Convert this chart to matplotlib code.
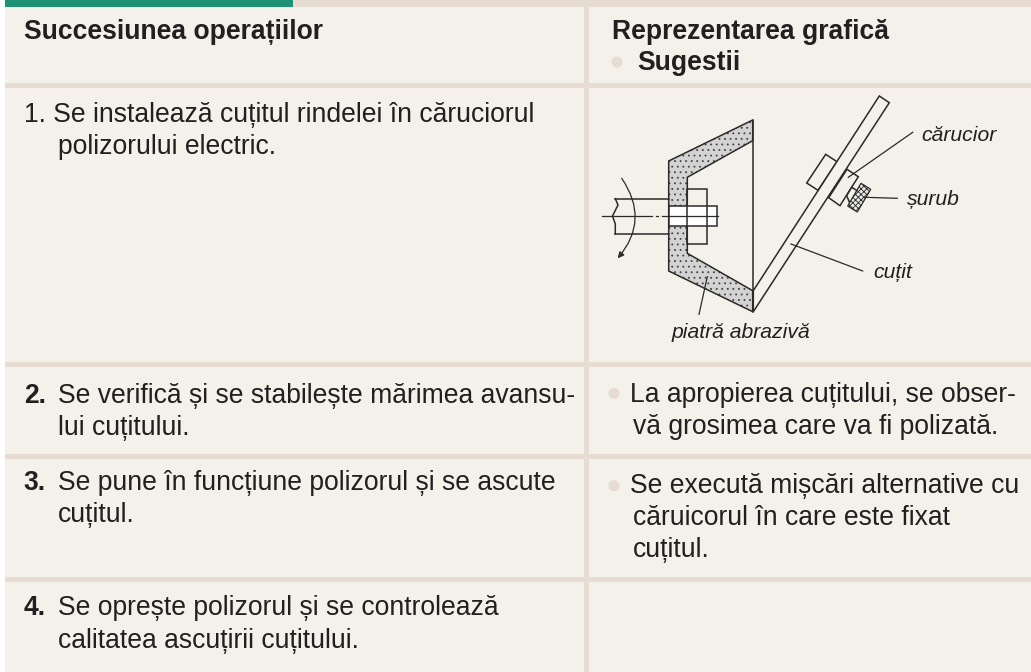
import matplotlib
matplotlib.use('Agg')
import matplotlib.pyplot as plt
from matplotlib.patches import Polygon, Rectangle, Circle, FancyArrowPatch

plt.rcParams['font.family'] = ['Liberation Sans', 'DejaVu Sans']
plt.rcParams['hatch.linewidth'] = 0.6

# texte din tabel
antet_st = 'Succesiunea operațiilor'
antet_dr = 'Reprezentarea grafică'
antet_sug = 'Sugestii'
pasi_nr = ['2.', '3.', '4.']
pas1 = ['1. Se instalează cuțitul rindelei în căruciorul', 'polizorului electric.']
pas2 = ['Se verifică și se stabilește mărimea avansu-', 'lui cuțitului.']
pas3 = ['Se pune în funcțiune polizorul și se ascute', 'cuțitul.']
pas4 = ['Se oprește polizorul și se controlează', 'calitatea ascuțirii cuțitului.']
sug2 = ['La apropierea cuțitului, se obser-', 'vă grosimea care va fi polizată.']
sug3 = ['Se execută mișcări alternative cu', 'căruicorul în care este fixat', 'cuțitul.']

FUNDAL = '#f4f0ea'
LINIE = '#e6dcd1'
VERDE = '#1f9275'
TEXT = '#231f20'
FS = 19.1

fig = plt.figure(figsize=(10.31, 6.72), dpi=100)
ax = fig.add_axes([0, 0, 1, 1])
ax.set_xlim(0, 1031)
ax.set_ylim(672, 0)
ax.axis('off')

ax.add_patch(Rectangle((5, 0), 1026, 672, fc=FUNDAL, ec='none'))
ax.add_patch(Rectangle((5, 0), 1026, 7, fc=LINIE, ec='none'))
ax.add_patch(Rectangle((5, 0), 288, 7, fc=VERDE, ec='none'))
for y in [83.3, 362, 454, 576.8]:
    ax.add_patch(Rectangle((5, y), 1026, 5.2, fc=LINIE, ec='none'))
ax.add_patch(Rectangle((583.5, 7), 5, 665, fc=LINIE, ec='none'))


def scrie(x, y, s, **kw):
    ax.text(x, y, s, fontsize=FS, color=TEXT, va='baseline', ha='left', **kw)


scrie(23.5, 39, antet_st, fontweight='bold')
scrie(612, 39, antet_dr, fontweight='bold')
scrie(637, 70, antet_sug, fontweight='bold')

scrie(24.5, 121.7, pas1[0])
scrie(58, 154, pas1[1])
for nr, linii, y0 in zip(pasi_nr, [pas2, pas3, pas4], [402.7, 490, 615.3]):
    scrie(23.7, y0, nr, fontweight='bold')
    scrie(58, y0, linii[0])
    scrie(58, y0 + 32.2, linii[1])
scrie(630, 402, sug2[0])
scrie(632.7, 434, sug2[1])
scrie(630, 493, sug3[0])
scrie(632.7, 525, sug3[1])
scrie(632.7, 557, sug3[2])

# buline
for x, y in [(617, 62), (614, 393.3), (614, 485.7)]:
    ax.add_patch(Circle((x, y), 5.5, fc=LINIE, ec='none'))

# desen: piatra abraziva
C = '#2b2a29'
LW = 1.1
piatra = [(752.7, 120), (668.7, 161), (668.7, 271), (752.7, 311.7), (752.7, 290.7),
          (687.3, 253.3), (687.3, 177.3), (752.7, 140.7)]
ax.add_patch(Polygon(piatra, closed=True, fc='#d3d3d3', ec='#444444', lw=0, hatch='...', zorder=2))
ax.add_patch(Polygon(piatra, closed=True, fc='none', ec=C, lw=LW, zorder=3))
ax.plot([752.7, 752.7], [120, 311.7], color=C, lw=LW, zorder=3)

# arbore si piulita
ax.add_patch(Rectangle((668.7, 206), 48, 20, fc='white', ec=C, lw=LW, zorder=3))
ax.add_patch(Rectangle((687.3, 188.7), 19.4, 55.3, fc='none', ec=C, lw=LW, zorder=3))
ax.plot([615.3, 668.7], [198.7, 198.7], color=C, lw=LW)
ax.plot([615.3, 668.7], [234, 234], color=C, lw=LW)
ax.plot([615.3, 618, 612.5, 615.3, 615.3],
        [198.7, 205, 216, 224, 234], color=C, lw=LW)
ax.plot([602, 652], [216, 216], color=C, lw=0.9, zorder=5)
ax.plot([656, 658], [216, 216], color=C, lw=0.9, zorder=5)
ax.plot([662, 718], [216, 216], color=C, lw=0.9, zorder=5)
ax.add_patch(FancyArrowPatch((621.7, 178.3), (617.7, 258.3), connectionstyle='arc3,rad=-0.38',
                             arrowstyle='-|>', mutation_scale=9, color=C, lw=0.9, shrinkA=0, shrinkB=0))

# cutit si carucior
ax.add_patch(Polygon([(879.3, 96), (889.3, 102.7), (753.3, 311.7), (753.3, 290.7)],
                     closed=True, fc=FUNDAL, ec=C, lw=LW, zorder=3))
ax.add_patch(Polygon([(825.7, 154.3), (837, 161.7), (818, 190.3), (806.7, 183)],
                     closed=True, fc=FUNDAL, ec=C, lw=LW, zorder=2))
ax.add_patch(Polygon([(847, 169.3), (858.3, 176.7), (840, 205.7), (828.7, 197.7)],
                     closed=True, fc=FUNDAL, ec=C, lw=LW, zorder=2))
ax.add_patch(Polygon([(851.7, 187.3), (857.7, 191), (849.7, 203), (846.7, 195.7)],
                     closed=True, fc=FUNDAL, ec=C, lw=LW, zorder=4))
ax.add_patch(Polygon([(861, 183.3), (870.7, 189.3), (857.3, 212), (847.7, 206)],
                     closed=True, fc='#e8e8e8', ec=C, lw=0.9, hatch='xxxxxx', zorder=5))

# linii de indicatie
ax.plot([912.7, 848.3], [132.3, 177.3], color=C, lw=0.9, zorder=5)
ax.plot([897.3, 865], [198.3, 197.3], color=C, lw=0.9, zorder=5)
ax.plot([862.7, 791], [271, 244], color=C, lw=0.9, zorder=5)
ax.plot([699, 707.3], [314.3, 276.7], color=C, lw=0.9, zorder=5)

# etichete
for x, y, s in [(921.7, 140.7, 'cărucior'), (906.7, 205, 'șurub'),
                (873, 277.7, 'cuțit'), (672, 338, 'piatră abrazivă')]:
    ax.text(x, y, s, fontsize=15.2, color=TEXT, style='italic', va='baseline', ha='left')

fig.savefig('out.png', dpi=100)
